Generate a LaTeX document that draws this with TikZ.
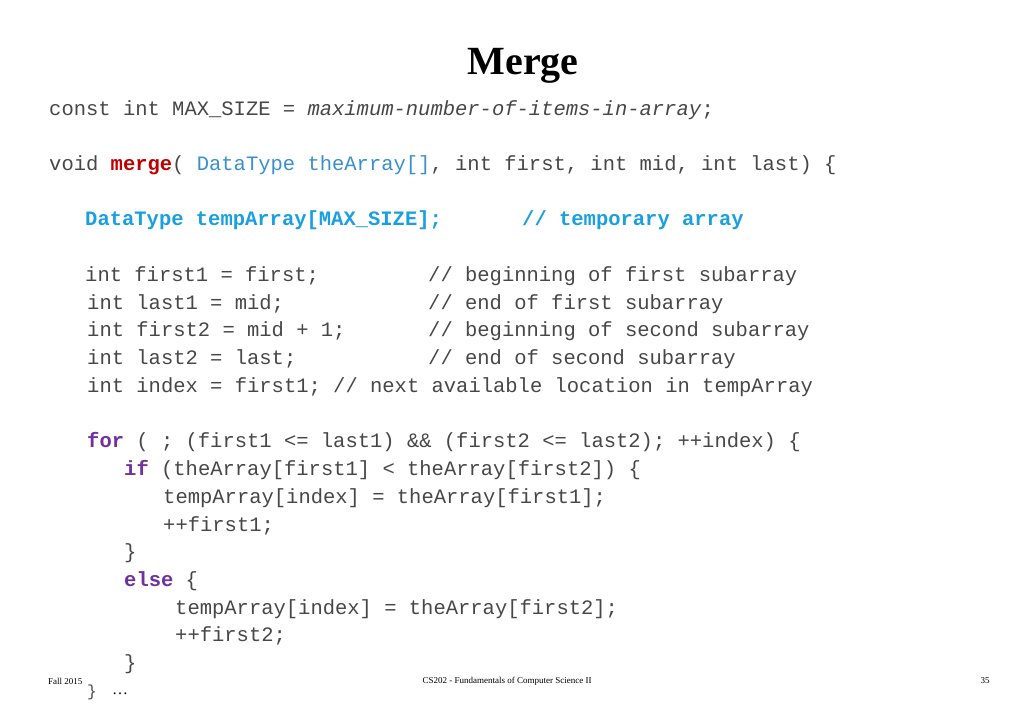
\documentclass[tikz,border=0pt]{standalone}
\usepackage{fontspec}
\setmainfont{Liberation Serif}
\setmonofont{Liberation Mono}
\begin{document}
\begin{tikzpicture}[x=1pt,y=-1pt,
  code/.style={anchor=west,inner sep=0pt,font=\fontsize{20.5}{24}\ttfamily,text=black!72},
  foot/.style={inner sep=0pt,font=\fontsize{9}{11}\selectfont}]
\definecolor{kw}{HTML}{7030A0}
\definecolor{fn}{HTML}{C00000}
\definecolor{ty}{HTML}{3A8FD0}
\definecolor{tb}{HTML}{1AA0E0}
\useasboundingbox (0,0) rectangle (1024,709);
\node[inner sep=0pt,font=\fontsize{40}{44}\bfseries] (title) at (523,66) {Merge};
\node[code] (l1) at (49,110) {const int MAX\_SIZE = \textit{maximum-number-of-items-in-array};};
\node[code] (l2) at (49,165) {void \textbf{\textcolor{fn}{merge}}( \textcolor{ty}{DataType theArray[]}, int first, int mid, int last) \{};
\node[code,text=tb,font=\fontsize{20.5}{24}\ttfamily\bfseries] (l3) at (85,220) {DataType tempArray[MAX\_SIZE];};
\node[code,text=tb,font=\fontsize{20.5}{24}\ttfamily\bfseries] (c3) at (522,220) {// temporary array};
\node[code] (l4) at (85,276) {int first1 = first;};
\node[code] (c4) at (428,276) {// beginning of first subarray};
\node[code] (l5) at (87,304) {int last1 = mid;};
\node[code] (c5) at (428,304) {// end of first subarray};
\node[code] (l6) at (87,331) {int first2 = mid + 1;};
\node[code] (c6) at (428,331) {// beginning of second subarray};
\node[code] (l7) at (87,359) {int last2 = last;};
\node[code] (c7) at (428,359) {// end of second subarray};
\node[code] (l8) at (87,387) {int index = first1; // next available location in tempArray};
\node[code] (l9) at (87,442) {\textbf{\textcolor{kw}{for}} ( ; (first1 <= last1) \&\& (first2 <= last2); ++index) \{};
\node[code] (l10) at (124,470) {\textbf{\textcolor{kw}{if}} (theArray[first1] < theArray[first2]) \{};
\node[code] (l11) at (163,498) {tempArray[index] = theArray[first1];};
\node[code] (l12) at (163,526) {++first1;};
\node[code] (l13) at (124,553) {\}};
\node[code] (l14) at (124,581) {\textbf{\textcolor{kw}{else}} \{};
\node[code] (l15) at (175,609) {tempArray[index] = theArray[first2];};
\node[code] (l16) at (175,636) {++first2;};
\node[code] (l17) at (124,664) {\}};
\node[code,font=\fontsize{16}{20}\ttfamily] (l18) at (87,692) {\}};
\node[anchor=west,inner sep=0pt,font=\fontsize{16}{20}\selectfont] (l18b) at (112,694) {…};
\node[foot,anchor=west] (f1) at (48,681) {Fall 2015};
\node[foot] (f2) at (507,681) {CS202 - Fundamentals of Computer Science II};
\node[foot] (f3) at (985,681) {35};
\end{tikzpicture}
\end{document}
